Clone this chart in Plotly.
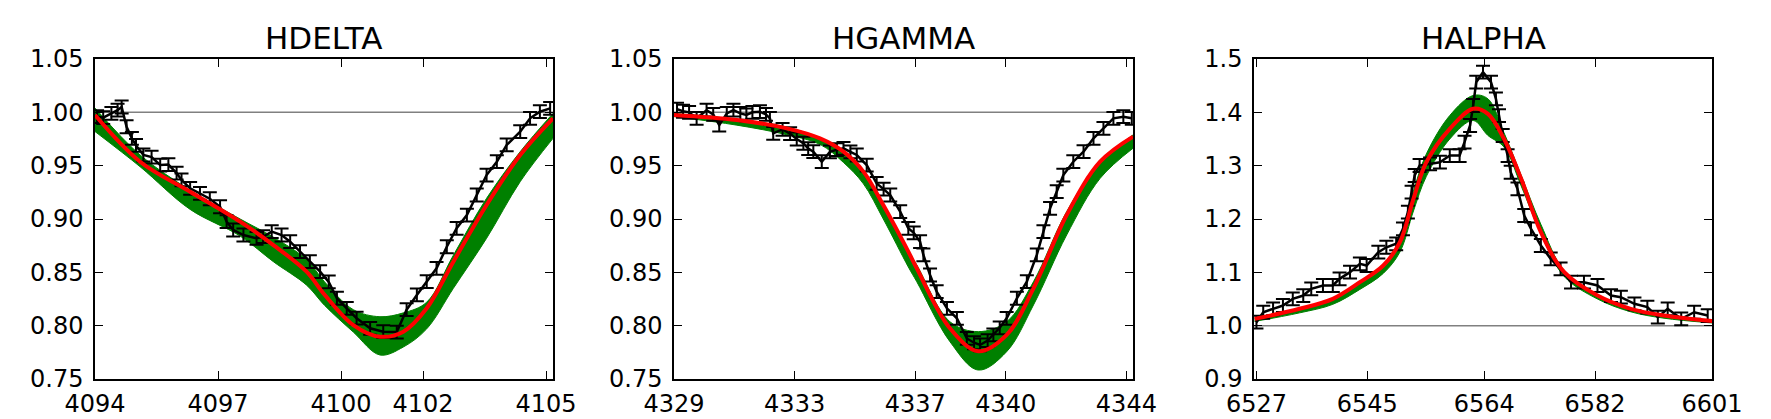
import plotly.graph_objects as go
from plotly.subplots import make_subplots

# ---- HDELTA ----
hd_wave = [4094.05, 4094.2, 4094.4, 4094.55, 4094.65, 4094.77, 4094.9, 4095.0, 4095.18, 4095.38,
           4095.59, 4095.79, 4095.99, 4096.11, 4096.32, 4096.56, 4096.8, 4097.05, 4097.21, 4097.37,
           4097.62, 4097.94, 4098.1, 4098.31, 4098.55, 4098.76, 4099.0, 4099.24, 4099.49, 4099.7,
           4099.9, 4100.14, 4100.38, 4100.71, 4101.03, 4101.36, 4101.6, 4101.85, 4102.09, 4102.33,
           4102.58, 4102.82, 4103.07, 4103.31, 4103.55, 4103.8, 4104.04, 4104.37, 4104.61, 4104.85,
           4105.1]
hd_flux = [0.996, 0.995, 0.999, 1.002, 1.005, 0.9865, 0.9756, 0.969, 0.960, 0.958,
           0.9506, 0.951, 0.943, 0.9366, 0.9288, 0.924, 0.919, 0.9115, 0.8975, 0.8897,
           0.885, 0.8819, 0.8834, 0.8881, 0.885, 0.8787, 0.8694, 0.860, 0.8506, 0.841,
           0.8257, 0.8163, 0.807, 0.7975, 0.7944, 0.794, 0.815, 0.8288, 0.8412, 0.8538,
           0.874, 0.8913, 0.9037, 0.9225, 0.9412, 0.9537, 0.9694, 0.9819, 0.9944, 1.0006,
           1.0037]
hd_err = 0.006
hd_model_wave = [4094.0, 4095.1, 4096.32, 4097.54, 4098.35, 4099.16, 4099.6, 4100.3, 4100.95,
                 4101.52, 4102.09, 4102.74, 4103.55, 4104.37, 4105.17]
hd_best = [0.9975, 0.9537, 0.9256, 0.8975, 0.8756, 0.8506, 0.829, 0.8006, 0.7897,
           0.7944, 0.8163, 0.860, 0.9131, 0.960, 0.9944]
hd_band_hi = [1.004, 0.960, 0.927, 0.900, 0.883, 0.862, 0.841, 0.815, 0.8084,
              0.812, 0.822, 0.866, 0.9194, 0.9631, 0.999]
hd_band_lo = [0.982, 0.949, 0.909, 0.884, 0.860, 0.838, 0.819, 0.794, 0.7725,
              0.780, 0.797, 0.835, 0.8819, 0.935, 0.9756]

# ---- HGAMMA ----
hg_wave = [4329.1, 4329.3, 4329.5, 4329.75, 4330.08, 4330.3, 4330.5, 4330.75, 4330.97, 4331.2,
           4331.4, 4331.6, 4331.85, 4332.05, 4332.18, 4332.29, 4332.6, 4332.85, 4333.07, 4333.29,
           4333.45, 4333.62, 4333.9, 4334.17, 4334.4, 4334.62, 4334.85, 4335.06, 4335.39, 4335.72,
           4335.95, 4336.17, 4336.5, 4336.77, 4336.95, 4337.16, 4337.27, 4337.49, 4337.71, 4338.05,
           4338.38, 4338.71, 4338.95, 4339.15, 4339.4, 4339.59, 4339.8, 4340.03, 4340.37, 4340.7,
           4341.03, 4341.25, 4341.47, 4341.69, 4341.91, 4342.24, 4342.58, 4342.91, 4343.24, 4343.57,
           4343.9, 4344.18]
hg_flux = [1.003, 1.001, 1.000, 0.9944, 1.002, 0.998, 0.988, 0.999, 1.002, 0.999,
           0.9975, 1.000, 1.0006, 0.998, 0.9944, 0.9803, 0.984, 0.980, 0.975, 0.971,
           0.966, 0.9631, 0.9537, 0.963, 0.965, 0.9663, 0.963, 0.960, 0.9506, 0.9334,
           0.928, 0.9225, 0.907, 0.8913, 0.887, 0.8787, 0.8663, 0.8475, 0.8319, 0.8163,
           0.8069, 0.788, 0.784, 0.7819, 0.786, 0.7913, 0.798, 0.8069, 0.8257, 0.8412,
           0.8663, 0.8881, 0.910, 0.9256, 0.9412, 0.9537, 0.9631, 0.9756, 0.985, 0.9944,
           0.9959, 0.9944]
hg_err = 0.006
hg_model_wave = [4329.0, 4331.08, 4332.74, 4333.84, 4334.62, 4335.28, 4335.94, 4336.77, 4337.05,
                 4338.15, 4339.09, 4340.03, 4340.92, 4342.02, 4343.13, 4344.22]
hg_best = [0.9975, 0.9928, 0.985, 0.9756, 0.9631, 0.9444, 0.9131, 0.8694, 0.8538,
           0.7975, 0.776, 0.7913, 0.835, 0.9037, 0.9537, 0.9772]
hg_band_hi = [0.999, 0.9935, 0.986, 0.976, 0.963, 0.944, 0.913, 0.870, 0.857,
              0.8037, 0.7944, 0.8037, 0.8412, 0.9069, 0.9537, 0.9788]
hg_band_lo = [0.996, 0.988, 0.979, 0.970, 0.953, 0.933, 0.900, 0.855, 0.8412,
              0.785, 0.7584, 0.7756, 0.8194, 0.885, 0.9381, 0.9663]

# ---- HALPHA ----
ha_wave = [6527.0, 6528.1, 6529.7, 6531.3, 6532.9, 6534.6, 6535.9, 6537.8, 6539.4, 6540.5,
           6542.2, 6543.8, 6544.9, 6546.8, 6548.1, 6549.7, 6550.8, 6551.6, 6552.2, 6552.7,
           6553.5, 6555.2, 6556.8, 6558.4, 6560.0, 6560.8, 6561.7, 6562.2, 6562.7, 6563.8,
           6565.1, 6565.9, 6566.4, 6567.0, 6567.8, 6568.3, 6569.4, 6570.5, 6571.6, 6573.2,
           6574.8, 6576.4, 6578.1, 6580.2, 6582.4, 6584.6, 6586.2, 6588.4, 6590.5, 6592.2,
           6593.8, 6596.0, 6598.1, 6600.3]
ha_flux = [1.0065, 1.0252, 1.0316, 1.0378, 1.0503, 1.0565, 1.069, 1.0753, 1.0753, 1.0878,
           1.1003, 1.116, 1.1128, 1.1378, 1.147, 1.1535, 1.1816, 1.2128, 1.2503, 1.2816,
           1.3003, 1.3035, 1.3065, 1.319, 1.319, 1.344, 1.3753, 1.4128, 1.4565, 1.4753,
           1.4565, 1.4254, 1.394, 1.3566, 1.319, 1.2877, 1.2566, 1.2066, 1.1816, 1.1503,
           1.1253, 1.1066, 1.0815, 1.0815, 1.0753, 1.0565, 1.0534, 1.041, 1.0347, 1.016,
           1.0316, 1.0128, 1.0252, 1.019]
ha_err = 0.012
ha_model_wave = [6526.7, 6534.0, 6539.4, 6543.8, 6547.6, 6550.3, 6552.5, 6554.6, 6558.4, 6562.2,
                 6564.6, 6567.2, 6570.0, 6573.2, 6577.0, 6582.4, 6587.8, 6593.2, 6601.1]
ha_best = [1.0128, 1.0316, 1.0503, 1.0815, 1.1128, 1.1565, 1.2378, 1.3065, 1.3691, 1.4066,
           1.397, 1.3504, 1.2754, 1.1753, 1.1003, 1.0565, 1.0316, 1.019, 1.0085]
ha_band_hi = [1.014, 1.032, 1.051, 1.083, 1.115, 1.160, 1.252, 1.322, 1.394, 1.4316,
              1.4254, 1.362, 1.282, 1.190, 1.103, 1.058, 1.032, 1.020, 1.009]
ha_band_lo = [1.008, 1.024, 1.040, 1.068, 1.098, 1.138, 1.215, 1.280, 1.350, 1.3847,
              1.3566, 1.335, 1.262, 1.172, 1.092, 1.050, 1.026, 1.014, 1.005]

panels = [
    dict(title="HDELTA", wave=hd_wave, flux=hd_flux, err=hd_err, mwave=hd_model_wave,
         best=hd_best, hi=hd_band_hi, lo=hd_band_lo, xrange=[4094.0, 4105.17],
         xticks=[4094, 4097, 4100, 4102, 4105], yrange=[0.75, 1.05],
         yticks=[0.75, 0.80, 0.85, 0.90, 0.95, 1.00, 1.05], yfmt=".2f",
         dom=[95, 553]),
    dict(title="HGAMMA", wave=hg_wave, flux=hg_flux, err=hg_err, mwave=hg_model_wave,
         best=hg_best, hi=hg_band_hi, lo=hg_band_lo, xrange=[4329.0, 4344.22],
         xticks=[4329, 4333, 4337, 4340, 4344], yrange=[0.75, 1.05],
         yticks=[0.75, 0.80, 0.85, 0.90, 0.95, 1.00, 1.05], yfmt=".2f",
         dom=[674, 1133]),
    dict(title="HALPHA", wave=ha_wave, flux=ha_flux, err=ha_err, mwave=ha_model_wave,
         best=ha_best, hi=ha_band_hi, lo=ha_band_lo, xrange=[6526.6, 6601.0],
         xticks=[6527, 6545, 6564, 6582, 6601], yrange=[0.9, 1.5],
         yticks=[0.9, 1.0, 1.1, 1.2, 1.3, 1.4, 1.5], yfmt=".1f",
         dom=[1254, 1712]),
]

# the page body adds an 8px margin, so positions (given in window pixels)
# are shifted back by 8px; the figure reaches down to the window bottom
PAD = 8
W, H = 1771 - 2 * PAD, 419 - PAD
top_px, bot_px = 59 - PAD, 379 - PAD
title_px = 38.5 - PAD

fig = make_subplots(rows=1, cols=3)

for i, p in enumerate(panels, start=1):
    fig.add_trace(go.Scatter(x=p["mwave"], y=p["lo"], mode="lines",
                             line=dict(color="#008000", width=1, shape="spline"),
                             showlegend=False, hoverinfo="skip"), row=1, col=i)
    fig.add_trace(go.Scatter(x=p["mwave"], y=p["hi"], mode="lines", fill="tonexty",
                             fillcolor="#008000",
                             line=dict(color="#008000", width=1, shape="spline"),
                             showlegend=False, hoverinfo="skip"), row=1, col=i)
    fig.add_trace(go.Scatter(x=p["wave"], y=p["flux"], mode="lines",
                             line=dict(color="black", width=2.5),
                             error_y=dict(type="constant", value=p["err"], color="black",
                                          thickness=2, width=7),
                             showlegend=False), row=1, col=i)
    fig.add_trace(go.Scatter(x=p["mwave"], y=p["best"], mode="lines",
                             line=dict(color="red", width=4, shape="spline"),
                             showlegend=False), row=1, col=i)
    fig.add_hline(y=1, line_color="#808080", line_width=1.5, layer="below", row=1, col=i)

    axis_common = dict(showline=True, linecolor="black", linewidth=1.5, mirror="ticks",
                       ticks="inside", ticklen=8, tickwidth=1, tickcolor="black",
                       showgrid=False, zeroline=False, automargin=False,
                       tickfont=dict(family="DejaVu Sans", size=24, color="black"))
    x0, x1 = p["dom"][0] - PAD, p["dom"][1] - PAD
    fig.update_xaxes(range=p["xrange"], tickvals=p["xticks"],
                     ticktext=[str(v) for v in p["xticks"]],
                     domain=[x0 / W, x1 / W], ticklabelstandoff=2,
                     row=1, col=i, **axis_common)
    fig.update_yaxes(range=p["yrange"], tickvals=p["yticks"], tickformat=p["yfmt"],
                     domain=[1 - bot_px / H, 1 - top_px / H], ticklabelstandoff=5,
                     row=1, col=i, **axis_common)
    fig.add_annotation(text=p["title"], xref="paper", yref="paper",
                       x=(x0 + x1) / 2 / W, y=1 - title_px / H,
                       xanchor="center", yanchor="middle", showarrow=False,
                       font=dict(family="DejaVu Sans", size=31, color="black"))

fig.update_layout(width=W, height=H, margin=dict(l=0, r=0, t=0, b=0),
                  plot_bgcolor="white", paper_bgcolor="white",
                  font=dict(family="DejaVu Sans", color="black"), showlegend=False)

fig.write_html("out.html")
